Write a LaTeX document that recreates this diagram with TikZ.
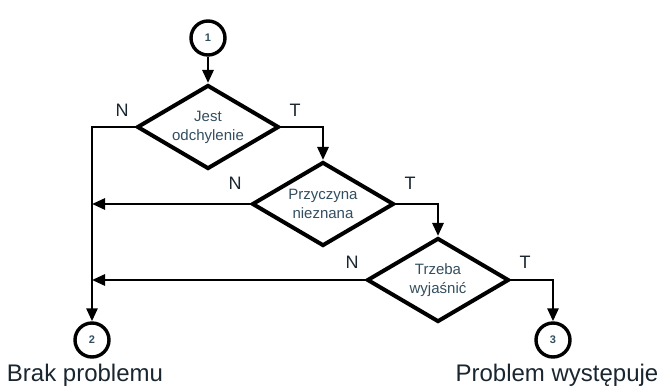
\documentclass[tikz,border=0pt]{standalone}
\usepackage{fontspec}
\setmainfont{Liberation Sans}
\usetikzlibrary{shapes.geometric,arrows.meta}
\definecolor{txt}{RGB}{25,38,48}
\definecolor{dtxt}{RGB}{50,78,95}
\begin{document}
\begin{tikzpicture}[x=1pt,y=-1pt,
 dec/.style={diamond, draw=black, line width=4pt, aspect=1.7, minimum width=142pt, minimum height=84pt, inner sep=0pt, align=center, font=\fontsize{15}{19}\selectfont, text=dtxt},
 conn/.style={circle, draw=black, line width=3.4pt, minimum size=34pt, inner sep=0pt, font=\fontsize{11}{12}\selectfont\bfseries, text=dtxt},
 flow/.style={line width=2.8pt, -{Triangle[length=13pt,width=11pt]}},
 lab/.style={font=\fontsize{18}{20}\selectfont, text=txt},
 big/.style={font=\fontsize{24}{26}\selectfont, text=txt, anchor=base}]
\useasboundingbox (0,0) rectangle (657,390);
\node[conn] (c1) at (208,38) {1};
\node[dec] (d1) at (208,127) {Jest\\odchylenie};
\node[dec] (d2) at (323,204) {Przyczyna\\nieznana};
\node[dec] (d3) at (438,280) {Trzeba\\wyjaśnić};
\node[conn] (c2) at (92,340) {2};
\node[conn] (c3) at (553,340) {3};
\draw[flow] (c1) -- (d1);
\draw[flow] (d1.east) -| (d2.north);
\draw[flow] (d2.east) -| (d3.north);
\draw[flow] (d3.east) -| (c3.north);
\draw[flow] (d1.west) -| (c2.north);
\draw[flow] (d2.west) -- (d2.west -| c2.north);
\draw[flow] (d3.west) -- (d3.west -| c2.north);
\node[lab] (n1) at (122,110) {N};
\node[lab] (t1) at (295,110) {T};
\node[lab] (n2) at (235,183) {N};
\node[lab] (t2) at (410,183) {T};
\node[lab] (n3) at (352,262) {N};
\node[lab] (t3) at (525,262) {T};
\node[big] (b2) at (85,382) {Brak problemu};
\node[big] (b3) at (557,382) {Problem występuje};
\end{tikzpicture}
\end{document}
